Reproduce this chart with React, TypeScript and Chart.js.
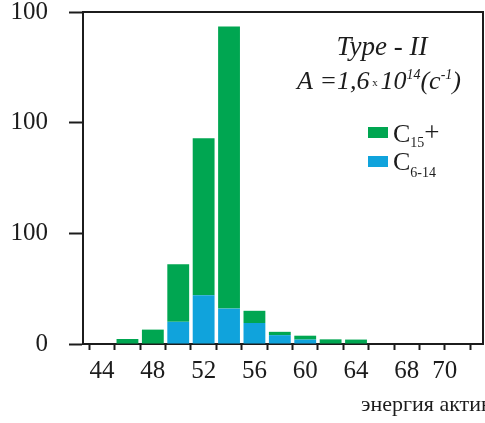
import { useEffect, useRef } from "react";
import { Chart, registerables } from "chart.js";

Chart.register(...registerables);

// ---- data ----
const energies = [46, 48, 50, 52, 54, 56, 58, 60, 62, 64];
const c6to14 = [0, 0, 20, 44, 32, 19, 8, 4, 0, 0];
const c15plus = [4.5, 13, 52, 142, 255, 11, 3, 3.5, 4.2, 4];
const xTickValues = [44, 46, 48, 50, 52, 54, 56, 58, 60, 62, 64, 66, 68, 70, 72, 74];
const xTickLabelValues = [44, 48, 52, 56, 60, 64, 68, 70];
const xTickLabelTexts = ["44", "48", "52", "56", "60", "64", "68", "\u2002\u200270"];
const yTickValues = [0, 100, 200, 300];
const yTickLabels = ["0", "100", "100", "100"];
const xTitle = "энергия активации, ккал/моль";
const typeLabel = "Type - II";

const GREEN = "#00a651";
const BLUE = "#10a3dc";
const INK = "#1c1c1c";
const SERIF = "'Liberation Serif', 'Times New Roman', serif";

type Run = { t: string; size: number; dy: number; italic?: boolean };

function drawRuns(ctx: CanvasRenderingContext2D, runs: Run[], x: number, y: number) {
  let cx = x;
  for (const r of runs) {
    ctx.font = `${r.italic ? "italic " : ""}${r.size}px ${SERIF}`;
    ctx.fillText(r.t, cx, y + r.dy);
    cx += ctx.measureText(r.t).width;
  }
}

const decorPlugin = {
  id: "decor",
  afterDraw(chart: any) {
    const { ctx, chartArea } = chart;
    ctx.save();
    // top and right frame
    ctx.strokeStyle = INK;
    ctx.lineWidth = 2;
    ctx.beginPath();
    ctx.moveTo(chartArea.left, chartArea.top);
    ctx.lineTo(chartArea.right, chartArea.top);
    ctx.lineTo(chartArea.right, chartArea.bottom);
    ctx.stroke();

    ctx.fillStyle = INK;
    ctx.textBaseline = "alphabetic";

    // annotation
    ctx.font = `italic 27px ${SERIF}`;
    ctx.textAlign = "center";
    ctx.fillText(typeLabel, chartArea.left + 299, chartArea.top + 43);
    ctx.textAlign = "left";
    drawRuns(
      ctx,
      [
        { t: "A =1,6", size: 26, dy: 0, italic: true },
        { t: " x ", size: 11, dy: -3, italic: false },
        { t: "10", size: 26, dy: 0, italic: true },
        { t: "14", size: 14, dy: -10, italic: true },
        { t: "(c", size: 26, dy: 0, italic: true },
        { t: "-1", size: 14, dy: -10, italic: true },
        { t: ")", size: 26, dy: 0, italic: true },
      ],
      chartArea.left + 214,
      chartArea.top + 77
    );

    // legend
    const lx = chartArea.left + 285;
    ctx.fillStyle = GREEN;
    ctx.fillRect(lx, chartArea.top + 115, 20, 11);
    ctx.fillStyle = BLUE;
    ctx.fillRect(lx, chartArea.top + 144, 20, 11);
    ctx.fillStyle = INK;
    drawRuns(
      ctx,
      [
        { t: "C", size: 26, dy: 0 },
        { t: "15", size: 14, dy: 5 },
        { t: "+", size: 27, dy: -1 },
      ],
      lx + 25,
      chartArea.top + 130
    );
    drawRuns(
      ctx,
      [
        { t: "C", size: 26, dy: 0 },
        { t: "6-14", size: 14, dy: 7 },
      ],
      lx + 25,
      chartArea.top + 158
    );

    // x axis title (cropped by the canvas edge as in the source)
    ctx.font = `22px ${SERIF}`;
    ctx.fillText(xTitle, chartArea.left + 278, chartArea.bottom + 67);
    ctx.restore();
  },
};

export default function App() {
  const ref = useRef<HTMLCanvasElement | null>(null);

  useEffect(() => {
    if (!ref.current) return;
    const chart = new Chart(ref.current, {
      type: "bar",
      data: {
        datasets: [
          {
            label: "C6-14",
            data: energies.map((e, i) => ({ x: e, y: c6to14[i] })),
            backgroundColor: BLUE,
            borderWidth: 0,
            barPercentage: 0.86,
            categoryPercentage: 1,
          },
          {
            label: "C15+",
            data: energies.map((e, i) => ({ x: e, y: c15plus[i] })),
            backgroundColor: GREEN,
            borderWidth: 0,
            barPercentage: 0.86,
            categoryPercentage: 1,
          },
        ],
      },
      options: {
        responsive: false,
        animation: false,
        devicePixelRatio: 1,
        layout: { padding: { top: 12, right: 2, left: 0, bottom: 0 } },
        plugins: { legend: { display: false }, tooltip: { enabled: false } },
        scales: {
          x: {
            type: "linear",
            min: 42.5,
            max: 74,
            offset: false,
            stacked: true,
            afterFit: (s: any) => {
              s.height = 79;
              s.paddingLeft = 0;
              s.paddingRight = 0;
            },
            afterBuildTicks: (s: any) => {
              s.ticks = xTickValues.map((v) => ({ value: v }));
            },
            ticks: {
              autoSkip: false,
              maxRotation: 0,
              color: INK,
              padding: 6,
              font: { family: SERIF, size: 25 },
              callback: (v: any) => {
                const k = xTickLabelValues.indexOf(Number(v));
                return k >= 0 ? xTickLabelTexts[k] : "";
              },
            },
            grid: {
              drawOnChartArea: false,
              drawTicks: true,
              tickLength: 6,
              tickWidth: 2,
              tickColor: INK,
            },
            border: { display: true, color: INK, width: 2 },
          },
          y: {
            min: 0,
            max: 300,
            stacked: true,
            afterFit: (s: any) => {
              s.width = 83;
              s.paddingTop = 0;
              s.paddingBottom = 0;
            },
            afterBuildTicks: (s: any) => {
              s.ticks = yTickValues.map((v) => ({ value: v }));
            },
            ticks: {
              color: INK,
              padding: 21,
              font: { family: SERIF, size: 25 },
              callback: (_v: any, i: number) => yTickLabels[i],
            },
            grid: {
              drawOnChartArea: false,
              drawTicks: true,
              tickLength: 14,
              tickWidth: 2,
              tickColor: INK,
            },
            border: { display: true, color: INK, width: 2 },
          },
        },
      },
      plugins: [decorPlugin],
    } as any);
    return () => chart.destroy();
  }, []);

  return (
    <div
      style={{
        position: "absolute",
        left: 0,
        top: 0,
        width: 485,
        height: 423,
        overflow: "hidden",
        background: "#fff",
      }}
    >
      <canvas ref={ref} width={485} height={423} />
    </div>
  );
}
